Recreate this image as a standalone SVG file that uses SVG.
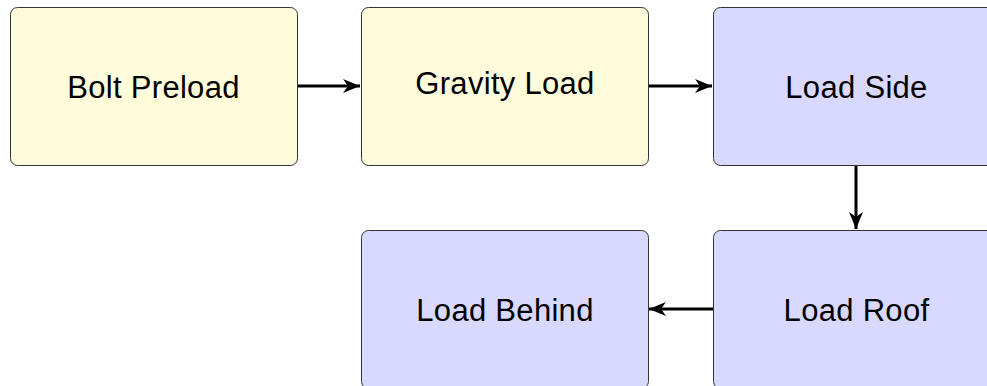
<svg xmlns="http://www.w3.org/2000/svg" width="987" height="386" viewBox="0 0 987 386">
<defs>
<style>
.node rect{stroke:#333;stroke-width:1}
.y rect{fill:#fefcda}
.b rect{fill:#d9d8fe}
.node text{font-family:"Liberation Sans",Arial,Helvetica,sans-serif;font-size:31px;letter-spacing:0.3px;fill:#000;text-anchor:middle}
.edge{stroke:#000;stroke-width:3;fill:none}
</style>
<marker id="ah" markerUnits="userSpaceOnUse" markerWidth="18" markerHeight="18" viewBox="0 0 18 18" refX="17" refY="9" orient="auto">
<path d="M0,2 L17,9 L0,16 L5,9 Z" fill="#000"/>
</marker>
</defs>
<rect width="987" height="386" fill="#fff"/>
<g id="connectors">
<line class="edge" x1="297" y1="86" x2="360" y2="86" marker-end="url(#ah)"/>
<line class="edge" x1="648" y1="86" x2="712" y2="86" marker-end="url(#ah)"/>
<line class="edge" x1="856" y1="166" x2="856" y2="229" marker-end="url(#ah)"/>
<line class="edge" x1="713" y1="309" x2="649" y2="309" marker-end="url(#ah)"/>
</g>
<g id="bolt-preload" class="node y">
<rect x="10.5" y="7.5" width="287" height="158" rx="7"/>
<text x="153.5" y="98">Bolt Preload</text>
</g>
<g id="gravity-load" class="node y">
<rect x="361.5" y="7.5" width="287" height="158" rx="7"/>
<text x="505" y="94">Gravity Load</text>
</g>
<g id="load-side" class="node b">
<rect x="713.5" y="7.5" width="287" height="158" rx="7"/>
<text x="856.5" y="98">Load Side</text>
</g>
<g id="load-behind" class="node b">
<rect x="361.5" y="230.5" width="287" height="158" rx="7"/>
<text x="505" y="321">Load Behind</text>
</g>
<g id="load-roof" class="node b">
<rect x="713.5" y="230.5" width="287" height="158" rx="7"/>
<text x="856.5" y="321">Load Roof</text>
</g>
</svg>
